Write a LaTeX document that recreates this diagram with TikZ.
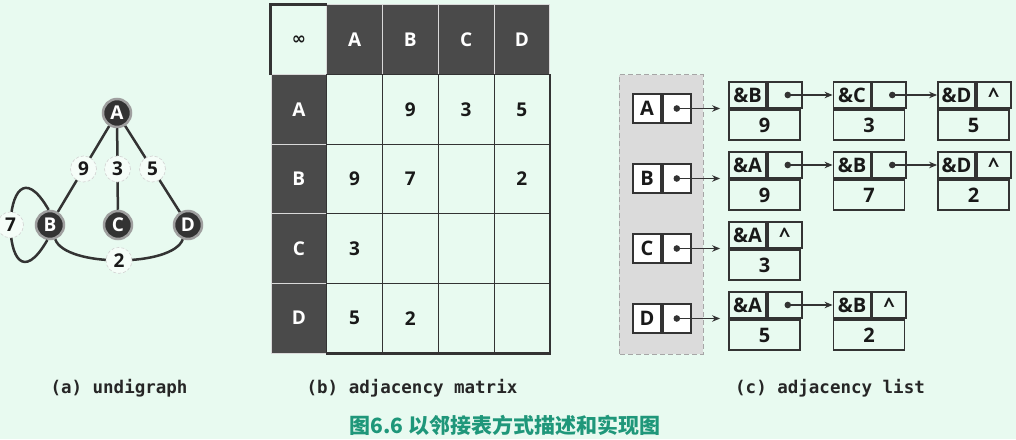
\documentclass[tikz,border=0pt]{standalone}
\usepackage{fontspec}
\setmainfont{Open Sans}
\setmonofont{DejaVu Sans Mono}
\newfontfamily\cjk{Noto Sans CJK SC}
\newfontfamily\symfont{DejaVu Sans}
\usetikzlibrary{arrows.meta}

\definecolor{bgmint}{HTML}{E8FAF0}
\definecolor{inkdark}{HTML}{333333}
\definecolor{celldark}{HTML}{4A4A4A}
\definecolor{capteal}{HTML}{1F977A}

\newcommand\figfont{\fontsize{19}{22}\selectfont\bfseries}

\tikzset{
  vtx/.style={circle, minimum size=28pt, inner sep=0pt, fill=inkdark,
    draw=gray!75, line width=2.5pt, text=white, font=\figfont},
  wlab/.style={circle, minimum size=26pt, inner sep=0pt, fill=white!55!bgmint,
    draw=gray!35, densely dashed, line width=0.6pt, text=black!90, font=\figfont},
  edge/.style={draw=inkdark, line width=2.5pt},
  mhead/.style={rectangle, minimum width=55.75pt, minimum height=69.6pt,
    inner sep=0pt, fill=celldark, draw=gray!30, line width=1pt,
    text=white, font=\figfont},
  mcell/.style={mhead, fill=bgmint, draw=inkdark, text=black!90},
  mcorner/.style={mcell, draw=gray!30},
  hkey/.style={rectangle, minimum width=28pt, minimum height=29pt, inner sep=0pt,
    fill=white, draw=inkdark, line width=1.8pt, text=black!90,
    font=\fontsize{20}{22}\selectfont\bfseries},
  ekey/.style={hkey, minimum width=37pt, minimum height=26.5pt, fill=bgmint},
  eptr/.style={ekey, minimum width=34pt},
  ewt/.style={ekey, minimum width=71pt, minimum height=30pt},
  ptr/.style={-{Stealth[length=8pt,width=6.5pt]}, line width=1.7pt, draw=inkdark},
  capt/.style={font=\fontsize{17.5}{20}\selectfont\ttfamily\bfseries, text=black!85}
}

\begin{document}
\begin{tikzpicture}[x=1pt,y=1pt]
  \useasboundingbox (0,0) rectangle (1016,439);
  \fill[bgmint] (0,0) rectangle (1016,439);

  % (a) undigraph
  \node[vtx] (A) at (117,326) {A};
  \node[vtx] (B) at (50,214) {B};
  \node[vtx] (C) at (118,214) {C};
  \node[vtx] (D) at (188,214) {D};
  \begin{scope}[edge]
    \draw (A) -- node[wlab] (w9) {9} (B);
    \draw (A) -- node[wlab] (w3) {3} (C);
    \draw (A) -- node[wlab] (w5) {5} (D);
    \draw (B.95) .. controls +(120:100) and +(240:100) .. node[wlab] (w7) {7} (B.260);
    \draw (B) to[out=-70, in=-110, looseness=0.6] node[wlab] (w2) {2} (D);
  \end{scope}

  % (b) adjacency matrix
  \node[mcorner] (h0) at ({271+27.875},{434-34.8}) {\symfont\fontsize{17}{20}\selectfont\bfseries ∞};
  \foreach \ltr [count=\ix] in {A,B,C,D} {
    \node[mhead] (h\ltr) at ({271+55.75*(\ix+0.5)},{434-34.8}) {\ltr};
    \node[mhead] (r\ltr) at ({271+27.875},{434-69.6*(\ix+0.5)}) {\ltr};
  }
  \foreach \rw/\vals [count=\ix] in {A/{{},9,3,5}, B/{9,7,{},2}, C/{3,{},{},{}}, D/{5,2,{},{}}} {
    \foreach \nb [count=\jx] in \vals {
      \node[mcell] (m\rw\jx) at ({271+55.75*(\jx+0.5)},{434-69.6*(\ix+0.5)}) {\nb};
    }
  }
  \draw[inkdark, line width=2.2pt] (h0.south west) -- (h0.north west) -- (h0.north east);
  \draw[inkdark, line width=2.2pt] (mA4.north east) -- (mD4.south east) -- (mD1.south west);

  % (c) adjacency list
  \draw[draw=gray!70, fill=gray!28, line width=1pt, dash pattern=on 5pt off 3pt]
    (619,85) rectangle (703,364);
  \foreach \rw/\kx/\ix/\nb/\wt/\lst in {A/0/0/B/9/0, A/0/1/C/3/0, A/0/2/D/5/1,
      B/1/0/A/9/0, B/1/1/B/7/0, B/1/2/D/2/1, C/2/0/A/3/1, D/3/0/A/5/0, D/3/1/B/2/1} {
    \node[ekey] (k\rw\ix) at ({747.5+104.5*\ix},{344-70*\kx}) {\&\nb};
    \node[eptr, anchor=west] (p\rw\ix) at (k\rw\ix.east) {\ifnum\lst=1 \textasciicircum\fi};
    \node[ewt, anchor=north west] (e\rw\ix) at (k\rw\ix.south west) {\wt};
  }
  \foreach \rw/\kx in {A/0, B/1, C/2, D/3} {
    \node[hkey] (l\rw) at (647,{330.5-70*\kx}) {\rw};
    \node[hkey, anchor=west] (hp\rw) at (l\rw.east) {};
    \fill[inkdark] (hp\rw.center) circle (3.3pt);
    \draw[ptr, shorten >=8pt] (hp\rw.center) -- (hp\rw.center -| k\rw0.west);
  }
  \foreach \rw/\ix/\jx in {A/0/1, A/1/2, B/0/1, B/1/2, D/0/1} {
    \fill[inkdark] ([xshift=3pt]p\rw\ix.center) circle (3.3pt);
    \draw[ptr] ([xshift=3pt]p\rw\ix.center) -- (k\rw\jx.west);
  }

  % captions
  \node[capt] (capa) at (119,51) {(a) undigraph};
  \node[capt] (capb) at (412,51) {(b) adjacency matrix};
  \node[capt] (capc) at (830,51) {(c) adjacency list};
  \node[font=\fontsize{21}{24}\selectfont\cjk\bfseries, text=capteal] (title)
    at (505,14) {图6.6 以邻接表方式描述和实现图};
\end{tikzpicture}
\end{document}
